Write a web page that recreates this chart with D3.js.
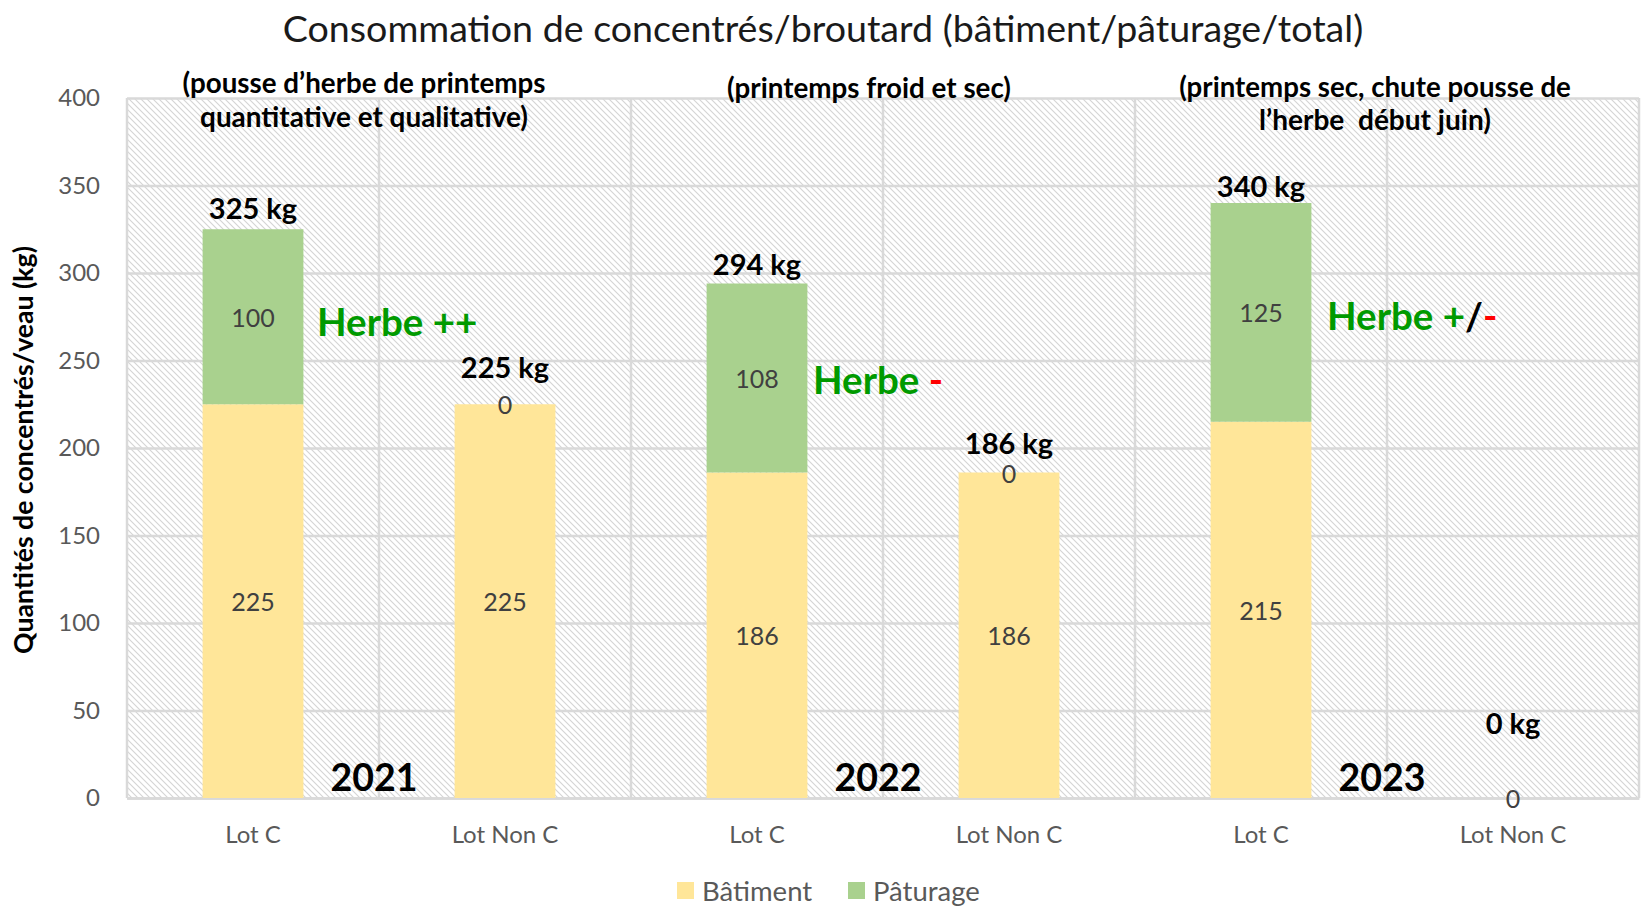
<!DOCTYPE html>
<html>
<head>
<meta charset="utf-8">
<script src="https://cdn.jsdelivr.net/npm/d3@7"></script>
<style>
  html, body { margin: 0; padding: 0; background: #ffffff; }
  svg { display: block; font-family: Lato, "Open Sans", sans-serif; }
</style>
</head>
<body>
<svg id="chart" width="1641" height="906"></svg>
<script>
// ---------- data ----------
const categories = ["Lot C", "Lot Non C", "Lot C", "Lot Non C", "Lot C", "Lot Non C"];
const years = ["2021", "2021", "2022", "2022", "2023", "2023"];
const batiment = [225, 225, 186, 186, 215, 0];
const paturage = [100, 0, 108, 0, 125, 0];
const totals = [325, 225, 294, 186, 340, 0];
const seriesNames = ["Bâtiment", "Pâturage"];
const yTicks = [0, 50, 100, 150, 200, 250, 300, 350, 400];
const yearLabels = ["2021", "2022", "2023"];
const periodNotes = [
  ["(pousse d\u2019herbe de printemps", "quantitative et qualitative)"],
  ["(printemps froid et sec)"],
  ["(printemps sec, chute pousse de", "l\u2019herbe  début juin)"]
];
const herbeNotes = [
  [["Herbe ++", "#009a00"]],
  [["Herbe ", "#009a00"], ["-", "#ff0000"]],
  [["Herbe +", "#009a00"], ["/", "#000000"], ["-", "#ff0000"]]
];
const titleText = "Consommation de concentrés/broutard (bâtiment/pâturage/total)";
const yTitleText = "Quantités de concentrés/veau (kg)";

// ---------- layout ----------
const svg = d3.select("#chart");
const M = { left: 127, right: 1639, top: 98, bottom: 798 };
const colors = ["#FFE699", "#A9D18E"];
const ids = categories.map((c, i) => i);

const x = d3.scaleBand().domain(ids).range([M.left, M.right])
  .paddingInner(0.6).paddingOuter(0.3);
const y = d3.scaleLinear().domain([0, 400]).range([M.bottom, M.top]);

function fit(sel, w) {
  const fs = parseFloat(sel.style("font-size"));
  const len = sel.node().getComputedTextLength();
  sel.style("font-size", (fs * w / len).toFixed(2) + "px");
}

// hatch pattern
const defs = svg.append("defs");
const pat = defs.append("pattern").attr("id", "hatch")
  .attr("patternUnits", "userSpaceOnUse").attr("width", 6).attr("height", 6);
pat.append("rect").attr("width", 6).attr("height", 6).attr("fill", "#ffffff");
pat.append("path").attr("d", "M-1,-1 L7,7 M-1,5 L1,7 M5,-1 L7,1")
  .attr("stroke", "#d4d4d4").attr("stroke-width", 1.1);

svg.append("rect").attr("x", M.left).attr("y", M.top)
  .attr("width", M.right - M.left).attr("height", M.bottom - M.top)
  .attr("fill", "url(#hatch)");

// horizontal gridlines
const yAxis = d3.axisLeft(y).tickValues(yTicks).tickSize(-(M.right - M.left)).tickPadding(27);
const gy = svg.append("g").attr("transform", `translate(${M.left},0)`).call(yAxis);
gy.select(".domain").remove();
gy.selectAll(".tick line").attr("stroke", "#d9d9d9").attr("stroke-width", 2.5);
gy.selectAll(".tick text").attr("fill", "#595959").style("font-size", "24px")
  .style("font-family", "Lato, sans-serif");

// vertical gridlines at category boundaries
const half = (x.step() - x.bandwidth()) / 2;
const bounds = ids.map(i => x(i) - half).concat([M.right]);
svg.append("g").selectAll("line").data(bounds).join("line")
  .attr("x1", d => d).attr("x2", d => d).attr("y1", M.top).attr("y2", M.bottom)
  .attr("stroke", "#d9d9d9").attr("stroke-width", 2.5);

// x axis
const xAxis = d3.axisBottom(x).tickFormat(i => categories[i]).tickSize(0).tickPadding(28);
const gx = svg.append("g").attr("transform", `translate(0,${M.bottom})`).call(xAxis);
gx.select(".domain").attr("stroke", "#d9d9d9").attr("stroke-width", 2.5);
gx.selectAll(".tick text").attr("fill", "#595959").style("font-size", "24px")
  .style("font-family", "Lato, sans-serif");

// stacked bars
const rows = ids.map(i => ({ id: i, "Bâtiment": batiment[i], "Pâturage": paturage[i] }));
const stack = d3.stack().keys(seriesNames)(rows);
const layers = svg.append("g").selectAll("g").data(stack).join("g")
  .attr("fill", (d, k) => colors[k]);
layers.selectAll("rect").data(d => d).join("rect")
  .attr("x", d => x(d.data.id)).attr("width", x.bandwidth())
  .attr("y", d => y(d[1])).attr("height", d => y(d[0]) - y(d[1]));

// segment value labels
const lbl = svg.append("g");
stack.forEach(layer => {
  layer.forEach(d => {
    const i = d.data.id;
    if (i === 5 && layer.key === "Pâturage") return; // overlapping zero label
    lbl.append("text")
      .attr("x", x(i) + x.bandwidth() / 2)
      .attr("y", y((d[0] + d[1]) / 2))
      .attr("text-anchor", "middle").attr("dominant-baseline", "central")
      .attr("fill", "#404040").style("font-size", "25px")
      .text(d[1] - d[0]);
  });
});

// total labels (manually placed above bars, px lift above bar top)
const totalLift = [22, 38, 20, 30, 18, 76];
totals.forEach((t, i) => {
  svg.append("text")
    .attr("x", x(i) + x.bandwidth() / 2)
    .attr("y", y(t) - totalLift[i])
    .attr("text-anchor", "middle").attr("dominant-baseline", "central")
    .attr("fill", "#000").style("font-size", "29px").style("font-weight", "bold")
    .text(t + " kg");
});

// year labels (near boundary between Lot C and Lot Non C of each year)
yearLabels.forEach((yr, k) => {
  svg.append("text")
    .attr("x", bounds[2 * k + 1] - 5)
    .attr("y", y(12.5))
    .attr("text-anchor", "middle").attr("dominant-baseline", "central")
    .attr("fill", "#000").style("font-size", "37.5px").style("font-weight", "bold")
    .text(yr);
});

// herbe notes
const herbePos = [[317, 321], [813, 379], [1327, 315]];
herbeNotes.forEach((parts, k) => {
  const t = svg.append("text").attr("x", herbePos[k][0]).attr("y", herbePos[k][1])
    .attr("dominant-baseline", "central")
    .style("font-size", "38.5px").style("font-weight", "bold")
    .style("white-space", "pre");
  parts.forEach(p => t.append("tspan").attr("fill", p[1]).text(p[0]));
});

// period notes
const notePos = [[364, 82, 34], [869, 87, 0], [1375, 86, 33]];
const noteWidths = [[363, 328], [284], [392, 232]];
periodNotes.forEach((lines, k) => {
  lines.forEach((ln, j) => {
    const t = svg.append("text")
      .attr("x", notePos[k][0]).attr("y", notePos[k][1] + j * notePos[k][2])
      .attr("text-anchor", "middle").attr("dominant-baseline", "central")
      .attr("fill", "#000").style("font-size", "24px").style("font-weight", "bold")
      .style("white-space", "pre")
      .text(ln);
    fit(t, noteWidths[k][j]);
  });
});

// title
const title = svg.append("text").attr("x", 823).attr("y", 27)
  .attr("text-anchor", "middle").attr("dominant-baseline", "central")
  .attr("fill", "#1a1a1a").style("font-size", "32px").text(titleText);
fit(title, 1081);

// y axis title
const yt = svg.append("text")
  .attr("transform", "translate(23,450) rotate(-90)")
  .attr("text-anchor", "middle").attr("dominant-baseline", "central")
  .attr("fill", "#000").style("font-size", "22px").style("font-weight", "bold")
  .text(yTitleText);
fit(yt, 408);

// legend
const legX = [677, 848];
seriesNames.forEach((s, k) => {
  svg.append("rect").attr("x", legX[k]).attr("y", 882).attr("width", 17).attr("height", 17)
    .attr("fill", colors[k]);
  svg.append("text").attr("x", legX[k] + 25).attr("y", 890)
    .attr("dominant-baseline", "central").attr("fill", "#595959")
    .style("font-size", "27.5px").text(s);
});
</script>
</body>
</html>
